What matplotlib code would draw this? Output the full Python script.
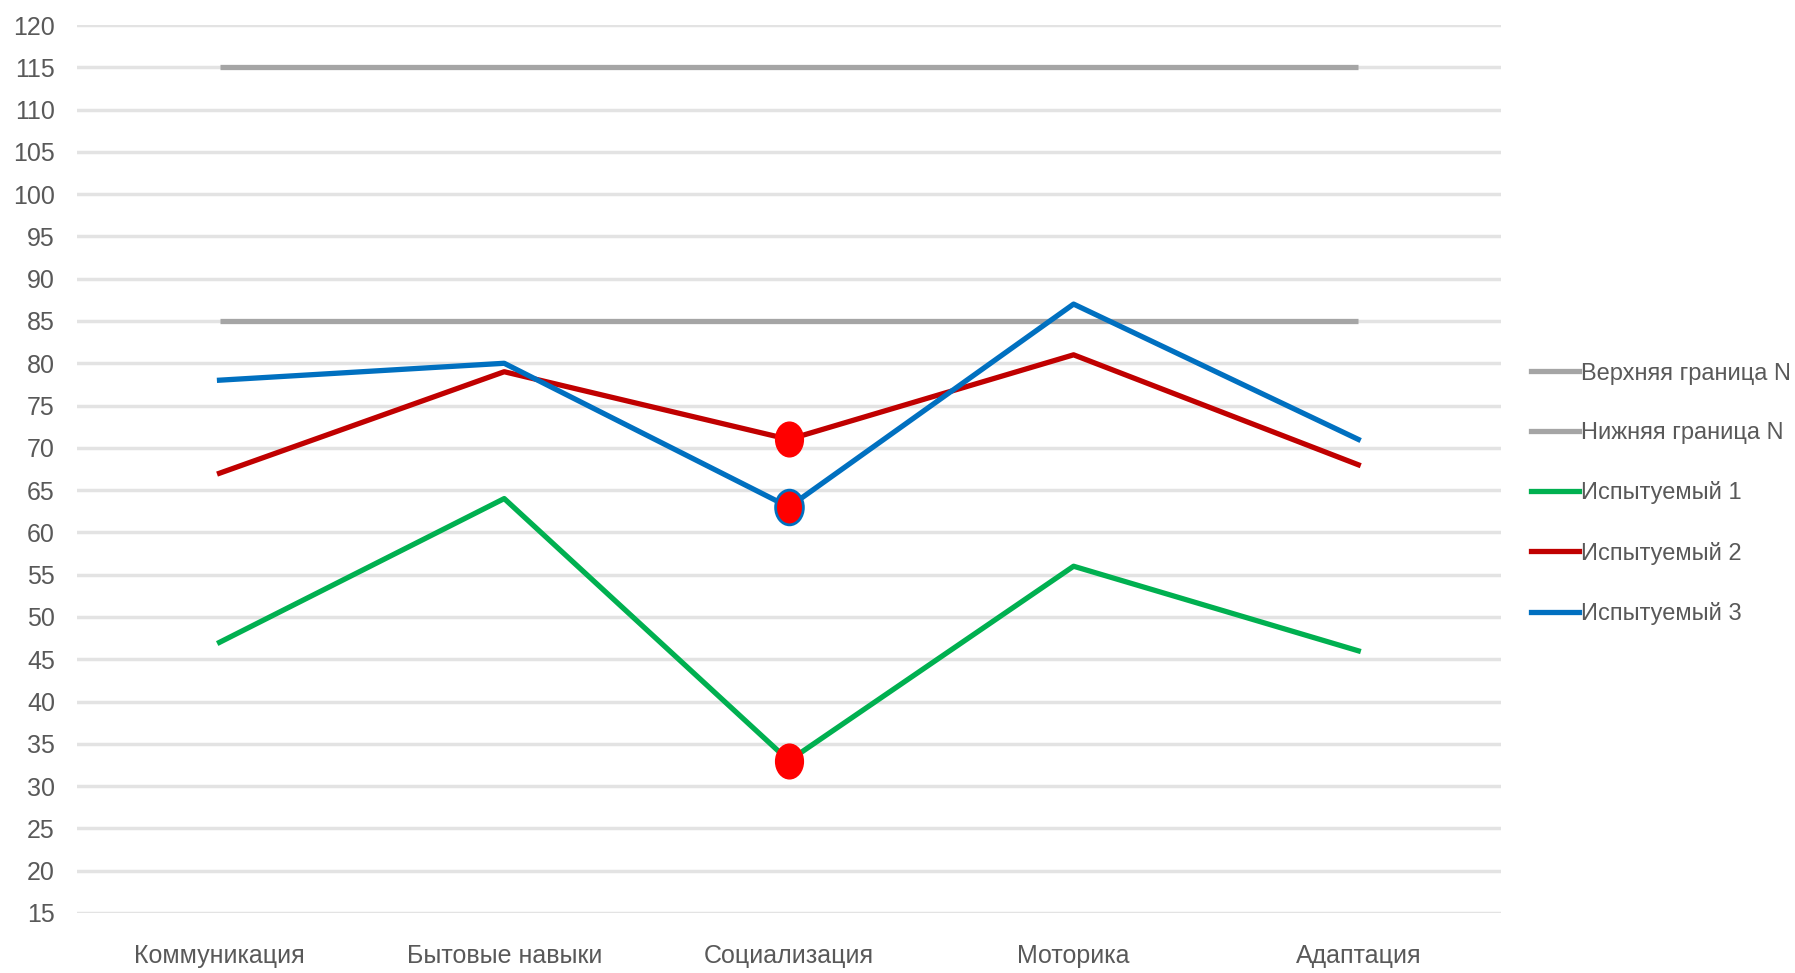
import matplotlib.pyplot as plt
from matplotlib.path import Path
from matplotlib.transforms import Affine2D

plt.rcParams['font.family'] = ['Liberation Sans', 'DejaVu Sans']

categories = ['Коммуникация', 'Бытовые навыки', 'Социализация', 'Моторика', 'Адаптация']
upper_n = [115, 115, 115, 115, 115]
lower_n = [85, 85, 85, 85, 85]
subject_1 = [47, 64, 33, 56, 46]
subject_2 = [67, 79, 71, 81, 68]
subject_3 = [78, 80, 63, 87, 71]
yticks = list(range(15, 121, 5))

text_color = '#595959'
ellipse = Path.unit_circle().transformed(Affine2D().scale(0.8, 1.0))

fig = plt.figure(figsize=(17.95, 9.73), dpi=100)
ax = fig.add_axes([0.043, 0.0617, 0.793, 0.9126])

x = list(range(len(categories)))
lw = 3.8
ax.plot(x, upper_n, color='#a5a5a5', lw=lw, label='Верхняя граница N', solid_capstyle='butt')
ax.plot(x, lower_n, color='#a5a5a5', lw=lw, label='Нижняя граница N', solid_capstyle='butt')
ax.plot(x, subject_1, color='#00b050', lw=lw, label='Испытуемый 1',
        marker=ellipse, markevery=[2], ms=25, mfc='#ff0000', mec='#ff0000', mew=1)
ax.plot(x, subject_2, color='#c00000', lw=lw, label='Испытуемый 2',
        marker=ellipse, markevery=[2], ms=25, mfc='#ff0000', mec='#ff0000', mew=1)
ax.plot(x, subject_3, color='#0070c0', lw=lw, label='Испытуемый 3',
        marker=ellipse, markevery=[2], ms=25, mfc='#ff0000', mec='#0070c0', mew=2)

ax.set_xlim(-0.5, len(categories) - 0.5)
ax.set_ylim(15, 120)
ax.set_yticks(yticks)
ax.set_xticks(x)
ax.set_xticklabels(categories)
ax.grid(axis='y', color='#e3e3e3', lw=2.5)
ax.set_axisbelow(True)
for s in ax.spines.values():
    s.set_visible(False)
ax.tick_params(axis='y', length=0, pad=16, labelsize=18, labelcolor=text_color)
ax.tick_params(axis='x', length=0, pad=22, labelsize=18, labelcolor=text_color)

handles, labels = ax.get_legend_handles_labels()
plain = [plt.Line2D([], [], color=h.get_color(), lw=lw) for h in handles]
leg = ax.legend(plain, labels, loc='center left', bbox_to_anchor=(1.015, 0.472),
                frameon=False, fontsize=17, labelcolor=text_color,
                handlelength=2.0, handletextpad=0.1, labelspacing=1.58, borderaxespad=0)

fig.savefig('out.png', dpi=100)
